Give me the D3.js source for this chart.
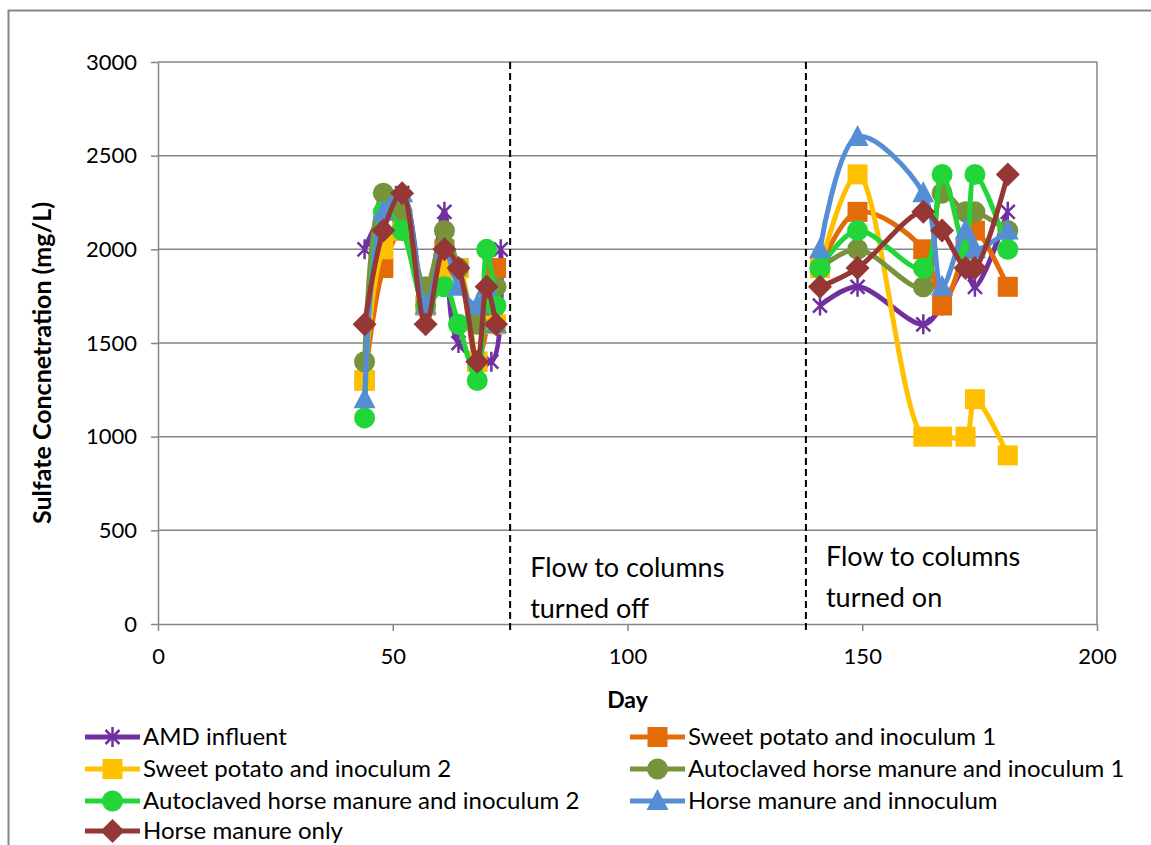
<!DOCTYPE html>
<html><head><meta charset="utf-8">
<script src="https://cdn.jsdelivr.net/npm/d3@7"></script>
<style>
body{margin:0;background:#fff}
svg{display:block}
text{font-family:Lato,"Open Sans",sans-serif;fill:#000}
</style>
</head><body>
<svg id="c" width="1151" height="845"></svg>
<script>
// ---------- data ----------
const seriesNames = ["AMD influent","Sweet potato and inoculum 1","Sweet potato and inoculum 2",
  "Autoclaved horse manure and inoculum 1","Autoclaved horse manure and inoculum 2",
  "Horse manure and innoculum","Horse manure only"];
const seriesColors = ["#7030A0","#E36C09","#FFC000","#77933C","#22D63A","#558ED5","#953735"];
const seriesMarkers = ["star","square","square","circle","circle","triangle","diamond"];

const amdDays   = [44,48,52,57,61,64,71,73, 141,149,163,167,172,174,181];
const amdValues = [2000,2200,2300,1700,2200,1500,1400,2000, 1700,1800,1600,1700,1900,1800,2200];

const sp1Days   = [44,48,52,57,61,64,68,72, 141,149,163,167,172,174,181];
const sp1Values = [1300,1900,2100,1700,2000,1900,1400,1900, 1900,2200,2000,1700,2000,2100,1800];

const sp2Days   = [44,48,52,57,61,64,68,70,72, 141,149,163,167,172,174,181];
const sp2Values = [1300,2000,2100,1700,1900,1900,1400,1700,1600, 1900,2400,1000,1000,1000,1200,900];

const ahm1Days   = [44,48,52,57,61,64,68,70,72, 141,149,163,167,172,174,181];
const ahm1Values = [1400,2300,2200,1800,2100,1900,1600,1700,1800, 1900,2000,1800,2300,2200,2200,2100];

const ahm2Days   = [44,48,52,57,61,64,68,70,72, 141,149,163,167,172,174,181];
const ahm2Values = [1100,2200,2100,1700,1800,1600,1300,2000,1700, 1900,2100,1900,2400,2000,2400,2000];

const hmiDays   = [44,48,52,57,61,64,68,70,72, 141,149,163,167,172,174,181];
const hmiValues = [1200,2200,2300,1700,2000,1800,1700,1800,1600, 2000,2600,2300,1800,2100,2000,2100];

const hmoDays   = [44,48,52,57,61,64,68,70,72, 141,149,163,167,172,174,181];
const hmoValues = [1600,2100,2300,1600,2000,1900,1400,1800,1600, 1800,1900,2200,2100,1900,1900,2400];

const seriesDays = [amdDays,sp1Days,sp2Days,ahm1Days,ahm2Days,hmiDays,hmoDays];
const seriesValues = [amdValues,sp1Values,sp2Values,ahm1Values,ahm2Values,hmiValues,hmoValues];

const xTicks = [0,50,100,150,200];
const yTicks = [0,500,1000,1500,2000,2500,3000];
const flowOffDay = 75, flowOnDay = 138;
const flowOffLabel = ["Flow to columns","turned off"];
const flowOnLabel = ["Flow to columns","turned on"];
const xTitle = "Day", yTitle = "Sulfate Concnetration (mg/L)";

// ---------- layout ----------
const svg = d3.select("#c");
const x = d3.scaleLinear().domain([0,200]).range([158,1097]);
const y = d3.scaleLinear().domain([0,3000]).range([624,62]);
const grey = "#868686";

// chart border
svg.append("path").attr("d","M8.5,845 V10.5 H1151").attr("fill","none").attr("stroke",grey).attr("stroke-width",2);

// gridlines
svg.append("g").selectAll("line").data(yTicks.filter(d=>d>0)).join("line")
  .attr("x1",x(0)).attr("x2",x(200)).attr("y1",d=>y(d)).attr("y2",d=>y(d))
  .attr("stroke",grey).attr("stroke-width",1.5);
// right edge line
svg.append("line").attr("x1",x(200)).attr("x2",x(200)).attr("y1",y(3000)).attr("y2",y(0))
  .attr("stroke",grey).attr("stroke-width",1.5);

// axes
const yAxis = svg.append("g").attr("transform",`translate(${x(0)},0)`)
  .call(d3.axisLeft(y).tickValues(yTicks).tickFormat(d3.format("d")).tickSize(7).tickPadding(14).tickSizeOuter(0));
const xAxis = svg.append("g").attr("transform",`translate(0,${y(0)})`)
  .call(d3.axisBottom(x).tickValues(xTicks).tickFormat(d3.format("d")).tickSize(7).tickPadding(17).tickSizeOuter(0));
[yAxis,xAxis].forEach(a=>{
  a.selectAll("path,line").attr("stroke",grey).attr("stroke-width",1.5);
  a.selectAll("text").attr("font-size",22).attr("font-family","Lato,sans-serif").attr("fill","#000");
});

// axis titles
svg.append("text").attr("x",x(100)).attr("y",708).attr("text-anchor","middle")
  .attr("font-size",23).attr("font-weight","bold").text(xTitle);
svg.append("text").attr("transform",`translate(51,363) rotate(-90)`).attr("text-anchor","middle")
  .attr("font-size",25).attr("font-weight","bold").text(yTitle);

// dashed vertical lines
[flowOffDay,flowOnDay].forEach(d=>{
  svg.append("line").attr("x1",x(d)).attr("x2",x(d)).attr("y1",y(3000)).attr("y2",y(0)+6)
    .attr("stroke","#000").attr("stroke-width",2).attr("stroke-dasharray","7,4");
});
// annotations
[[flowOffDay,flowOffLabel,577],[flowOnDay,flowOnLabel,566]].forEach(([d,lab,yy])=>{
  const t = svg.append("text").attr("x",x(d)+20).attr("y",yy).attr("font-size",27);
  lab.forEach((l,i)=>t.append("tspan").attr("x",x(d)+20).attr("dy",i?41:0).text(l));
});

// markers
function marker(g,type,color,cx,cy){
  if(type==="star"){
    const r=10, a=7;
    g.append("path").attr("d",`M${cx},${cy-r}V${cy+r}M${cx-a},${cy-a}L${cx+a},${cy+a}M${cx-a},${cy+a}L${cx+a},${cy-a}`)
      .attr("stroke",color).attr("stroke-width",2.5).attr("fill","none");
  } else if(type==="square"){
    g.append("rect").attr("x",cx-10).attr("y",cy-10).attr("width",20).attr("height",20).attr("fill",color);
  } else if(type==="circle"){
    g.append("circle").attr("cx",cx).attr("cy",cy).attr("r",10.5).attr("fill",color);
  } else if(type==="triangle"){
    g.append("path").attr("d",`M${cx},${cy-12}L${cx+11},${cy+9}L${cx-11},${cy+9}Z`).attr("fill",color);
  } else if(type==="diamond"){
    g.append("path").attr("d",`M${cx},${cy-12}L${cx+12},${cy}L${cx},${cy+12}L${cx-12},${cy}Z`).attr("fill",color);
  }
}

const line = d3.line().x(d=>x(d[0])).y(d=>y(d[1])).curve(d3.curveCatmullRom.alpha(0.5));

seriesNames.forEach((name,i)=>{
  const pts = seriesDays[i].map((d,j)=>[d,seriesValues[i][j]]);
  // split into segments where there is a long gap (no data)
  const segs=[]; let cur=[];
  pts.forEach((p,j)=>{ if(j>0 && p[0]-pts[j-1][0]>30){segs.push(cur);cur=[];} cur.push(p); });
  segs.push(cur);
  const g = svg.append("g");
  segs.forEach(s=>g.append("path").attr("d",line(s)).attr("fill","none")
    .attr("stroke",seriesColors[i]).attr("stroke-width",5).attr("stroke-linejoin","round"));
  pts.forEach(p=>marker(g,seriesMarkers[i],seriesColors[i],x(p[0]),y(p[1])));
});

// legend
const legRows = [737,769,801,831];
seriesNames.forEach((name,i)=>{
  const col = i%2, row = Math.floor(i/2);
  const lx = col? 630 : 85, ly = legRows[row];
  const g = svg.append("g");
  g.append("line").attr("x1",lx).attr("x2",lx+55).attr("y1",ly).attr("y2",ly)
    .attr("stroke",seriesColors[i]).attr("stroke-width",5);
  marker(g,seriesMarkers[i],seriesColors[i],lx+27.5,ly);
  g.append("text").attr("x",lx+58).attr("y",ly+8).attr("font-size",24).text(name);
});
</script>
</body></html>
